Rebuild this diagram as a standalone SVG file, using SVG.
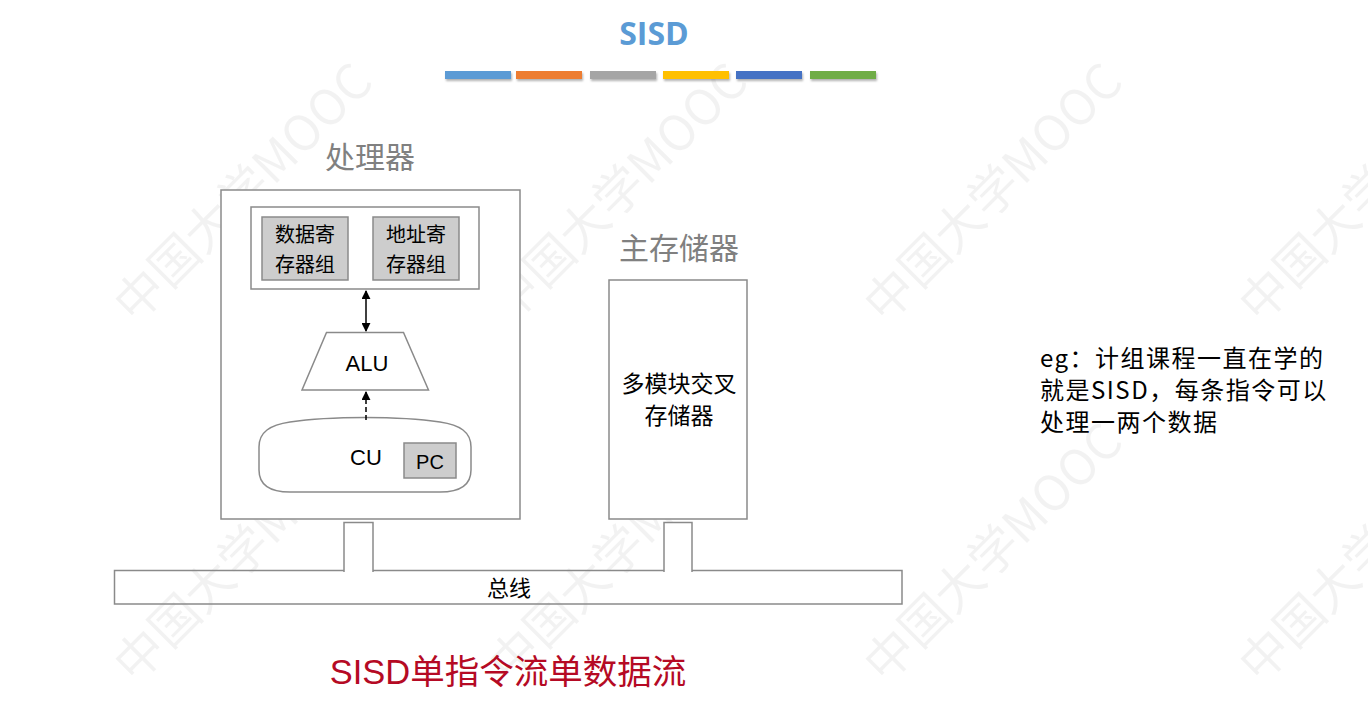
<svg xmlns="http://www.w3.org/2000/svg" width="1368" height="709" viewBox="0 0 1368 709">
<style>
.wm{font-family:"Noto Sans CJK SC","Liberation Sans",sans-serif;font-size:49px;fill:#000;fill-opacity:0.05}
.box{fill:#fff;stroke:#8a8a8a;stroke-width:1.5}
.reg{fill:#cdcdcd;stroke:#8a8a8a;stroke-width:1.5}
.lbl{font-family:"Liberation Sans","Noto Sans CJK SC",sans-serif;fill:#000;text-anchor:middle}
.cap{font-family:"Liberation Sans","Noto Sans CJK SC",sans-serif;fill:#808080;font-size:30px;text-anchor:middle}
.note{font-family:"Noto Sans CJK SC",sans-serif;font-size:24px;fill:#000;letter-spacing:1.5px}
.bar{stroke:none}
</style>
<defs>
<marker id="ah" viewBox="0 0 10 10" refX="9" refY="5" markerWidth="9" markerHeight="9" markerUnits="userSpaceOnUse" orient="auto-start-reverse">
<path d="M0,0 L10,5 L0,10 z" fill="#000"/>
</marker>
<filter id="sh" x="-10%" y="-50%" width="120%" height="250%">
<feDropShadow dx="1" dy="2" stdDeviation="1" flood-color="#000" flood-opacity="0.3"/>
</filter>
</defs>
<rect width="1368" height="709" fill="#fff"/>
<g id="watermark">
<text class="wm" transform="translate(135,325) rotate(-45)">中国大学MOOC</text>
<text class="wm" transform="translate(510,325) rotate(-45)">中国大学MOOC</text>
<text class="wm" transform="translate(885,325) rotate(-45)">中国大学MOOC</text>
<text class="wm" transform="translate(1260,325) rotate(-45)">中国大学MOOC</text>
<text class="wm" transform="translate(135,685) rotate(-45)">中国大学MOOC</text>
<text class="wm" transform="translate(510,685) rotate(-45)">中国大学MOOC</text>
<text class="wm" transform="translate(885,685) rotate(-45)">中国大学MOOC</text>
<text class="wm" transform="translate(1260,685) rotate(-45)">中国大学MOOC</text>
</g>
<g id="title">
<text x="654" y="45" font-family="Open Sans, Liberation Sans, sans-serif" font-weight="bold" font-size="32" fill="#5B9BD5" text-anchor="middle">SISD</text>
<g filter="url(#sh)">
<rect class="bar" x="445" y="71" width="66" height="8" fill="#5B9BD5"/>
<rect class="bar" x="516" y="71" width="66" height="8" fill="#ED7D31"/>
<rect class="bar" x="590" y="71" width="66" height="8" fill="#A5A5A5"/>
<rect class="bar" x="663" y="71" width="66" height="8" fill="#FFC000"/>
<rect class="bar" x="736" y="71" width="66" height="8" fill="#4472C4"/>
<rect class="bar" x="810" y="71" width="66" height="8" fill="#70AD47"/>
</g>
</g>
<g id="processor">
<text class="cap" x="370" y="168">处理器</text>
<rect class="box" x="221" y="190" width="299" height="329"/>
</g>
<g id="registers">
<rect class="box" x="251" y="207" width="228" height="82"/>
</g>
<g id="data-regs">
<rect class="reg" x="262" y="217" width="86" height="63"/>
<text class="lbl" x="305" y="242" font-size="20">数据寄</text>
<text class="lbl" x="305" y="272" font-size="20">存器组</text>
</g>
<g id="addr-regs">
<rect class="reg" x="373" y="217" width="86" height="63"/>
<text class="lbl" x="416" y="242" font-size="20">地址寄</text>
<text class="lbl" x="416" y="272" font-size="20">存器组</text>
</g>
<g id="alu">
<path class="box" d="M326.5,332.5 L403.5,332.5 L428.5,390 L302,390 Z"/>
<text class="lbl" x="367" y="371" font-size="22">ALU</text>
</g>
<g id="cu">
<path class="box" d="M290,422 C330,416 400,416 440,422 C460,425 471,432 471,447 L471,470 C471,485 460,492 440,492 L290,492 C270,492 259,485 259,470 L259,447 C259,432 270,425 290,422 Z"/>
<text class="lbl" x="366" y="465" font-size="22">CU</text>
</g>
<g id="pc">
<rect class="reg" x="404" y="443" width="52" height="35"/>
<text class="lbl" x="430" y="469" font-size="20">PC</text>
</g>
<g id="memory">
<text class="cap" x="679" y="259">主存储器</text>
<rect class="box" x="609" y="280" width="138" height="239"/>
<text class="lbl" x="679" y="392" font-size="23">多模块交叉</text>
<text class="lbl" x="679" y="424" font-size="23">存储器</text>
</g>
<g id="bus">
<path d="M344,572 L344,522.5 L373,522.5 L373,572" fill="#fff" stroke="#8a8a8a" stroke-width="1.5"/>
<path d="M664,572 L664,522.5 L692,522.5 L692,572" fill="#fff" stroke="#8a8a8a" stroke-width="1.5"/>
<path d="M344,570.5 L114.5,570.5 L114.5,604 L902,604 L902,570.5 L692,570.5 M664,570.5 L373,570.5" fill="none" stroke="#8a8a8a" stroke-width="1.5"/>
<text class="lbl" x="509" y="596" font-size="22">总线</text>
</g>
<g id="connectors">
<line x1="366" y1="291" x2="366" y2="331" stroke="#000" stroke-width="1.5" marker-start="url(#ah)" marker-end="url(#ah)"/>
<line x1="366" y1="420" x2="366" y2="392" stroke="#000" stroke-width="1.5" stroke-dasharray="5,3" marker-end="url(#ah)"/>
</g>
<g id="caption">
<text x="508" y="684" font-family="Liberation Sans, Noto Sans CJK SC, sans-serif" font-size="34.5" fill="#B50A24" text-anchor="middle">SISD单指令流单数据流</text>
</g>
<g id="note">
<text class="note" x="1040" y="367">eg：计组课程一直在学的</text>
<text class="note" x="1040" y="399">就是SISD，每条指令可以</text>
<text class="note" x="1040" y="431">处理一两个数据</text>
</g>
</svg>
